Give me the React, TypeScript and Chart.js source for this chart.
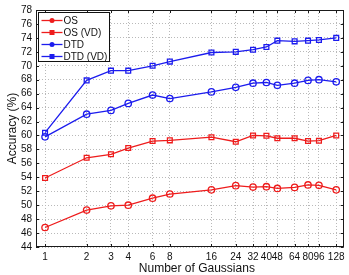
import React, { useEffect, useRef } from "react";
import { Chart, registerables } from "chart.js";

Chart.register(...registerables);

// Number of Gaussians (log-spaced axis)
const gaussians = [1, 2, 3, 4, 6, 8, 16, 24, 32, 40, 48, 64, 80, 96, 128];

// Accuracy (%) per method
const osAcc = [46.8, 49.3, 49.9, 50.0, 51.0, 51.6, 52.2, 52.8, 52.6, 52.65, 52.4, 52.55, 52.9, 52.85, 52.2];
const osVdAcc = [53.9, 56.8, 57.3, 58.2, 59.2, 59.3, 59.75, 59.1, 60.0, 59.95, 59.6, 59.6, 59.2, 59.25, 60.0];
const dtdAcc = [59.8, 63.05, 63.6, 64.6, 65.8, 65.3, 66.25, 66.9, 67.5, 67.6, 67.2, 67.5, 67.9, 68.0, 67.7];
const dtdVdAcc = [60.4, 67.9, 69.3, 69.3, 70.0, 70.6, 71.9, 72.0, 72.3, 72.7, 73.6, 73.5, 73.6, 73.7, 74.0];

const seriesNames = ["OS", "OS (VD)", "DTD", "DTD (VD)"];
const yTicks = [44, 46, 48, 50, 52, 54, 56, 58, 60, 62, 64, 66, 68, 70, 72, 74, 76, 78];
const xTitle = "Number of Gaussians";

const RED = "rgb(238,28,28)";
const BLUE = "rgb(28,28,238)";
const FONT = "'Liberation Sans', Arial, Helvetica, sans-serif";

const toPoints = (vals: number[]) => gaussians.map((x, i) => ({ x, y: vals[i] }));

// Draws the boxed frame with inward tick marks, the x-axis title and the legend inside the plot area
const frameAndLegend = {
  id: "frameAndLegend",
  afterDraw(chart: any) {
    const { ctx, chartArea: a, scales } = chart;
    const xs = scales.x;
    const ys = scales.y;
    ctx.save();
    ctx.strokeStyle = "#1a1a1a";
    ctx.lineWidth = 1;
    const seg = (x1: number, y1: number, x2: number, y2: number) => {
      ctx.beginPath();
      ctx.moveTo(x1, y1);
      ctx.lineTo(x2, y2);
      ctx.stroke();
    };
    xs.ticks.forEach((t: any) => {
      const px = Math.round(xs.getPixelForValue(t.value)) + 0.5;
      seg(px, a.bottom, px, a.bottom - 3);
      seg(px, a.top, px, a.top + 3);
    });
    ys.ticks.forEach((t: any) => {
      const py = Math.round(ys.getPixelForValue(t.value)) + 0.5;
      seg(a.left, py, a.left + 3, py);
      seg(a.right, py, a.right - 3, py);
    });
    ctx.strokeRect(Math.round(a.left) + 0.5, Math.round(a.top) + 0.5, Math.round(a.right - a.left) - 1, Math.round(a.bottom - a.top) - 1);

    // x-axis title
    ctx.fillStyle = "#111";
    ctx.font = `12px ${FONT}`;
    ctx.textAlign = "center";
    ctx.textBaseline = "middle";
    ctx.fillText(xTitle, (a.left + a.right) / 2 + 7, a.bottom + 22);

    // legend
    const bx = Math.round(a.left) + 2.5;
    const by = Math.round(a.top) + 2.5;
    const bw = 71;
    const bh = 49;
    ctx.fillStyle = "#fff";
    ctx.fillRect(bx, by, bw, bh);
    ctx.strokeStyle = "#111";
    ctx.strokeRect(bx, by, bw, bh);
    ctx.font = `10px ${FONT}`;
    ctx.textAlign = "left";
    ctx.textBaseline = "middle";
    chart.data.datasets.forEach((ds: any, i: number) => {
      const cy = by + 8 + i * 12;
      ctx.strokeStyle = ds.borderColor;
      ctx.fillStyle = ds.borderColor;
      ctx.lineWidth = 1.3;
      seg(bx + 3, cy, bx + 24, cy);
      const cx = bx + 13.5;
      if (ds.pointStyle === "rect") {
        ctx.fillRect(cx - 2.5, cy - 2.5, 5, 5);
      } else {
        ctx.beginPath();
        ctx.arc(cx, cy, 2.5, 0, Math.PI * 2);
        ctx.fill();
      }
      ctx.fillStyle = "#111";
      ctx.fillText(ds.label, bx + 25, cy + 0.5);
    });
    ctx.restore();
  },
};

export default function App() {
  const canvasRef = useRef<HTMLCanvasElement | null>(null);

  useEffect(() => {
    if (!canvasRef.current) return;
    const mk = (label: string, vals: number[], color: string, style: string, radius: number) => ({
      label,
      data: toPoints(vals),
      borderColor: color,
      backgroundColor: color,
      borderWidth: 1.3,
      pointStyle: style,
      pointRadius: radius,
      pointBorderWidth: 1.3,
      pointBorderColor: color,
      pointBackgroundColor: "rgba(255,255,255,0)",
      tension: 0,
    });
    const chart = new Chart(canvasRef.current, {
      type: "line",
      data: {
        datasets: [
          mk(seriesNames[0], osAcc, RED, "circle", 3.2),
          mk(seriesNames[1], osVdAcc, RED, "rect", 3.4),
          mk(seriesNames[2], dtdAcc, BLUE, "circle", 3.2),
          mk(seriesNames[3], dtdVdAcc, BLUE, "rect", 3.4),
        ],
      },
      options: {
        responsive: false,
        animation: false,
        layout: { padding: { top: 6, right: 2, left: 0, bottom: 0 } },
        plugins: { legend: { display: false }, tooltip: { enabled: false } },
        scales: {
          x: {
            type: "logarithmic",
            min: 0.86,
            max: 145,
            afterBuildTicks: (scale: any) => {
              scale.ticks = gaussians.map((v) => ({ value: v }));
            },
            afterFit: (scale: any) => {
              scale.height = 28;
            },
            ticks: {
              autoSkip: false,
              maxRotation: 0,
              minRotation: 0,
              padding: 4,
              color: "#111",
              font: { family: FONT, size: 10 },
              callback: (v: any) => String(v),
            },
            grid: { color: "rgb(185,185,185)", lineWidth: 1, drawTicks: false },
            border: { display: false, dash: [1, 2] },
          },
          y: {
            min: 44,
            max: 78,
            afterBuildTicks: (scale: any) => {
              scale.ticks = yTicks.map((v) => ({ value: v }));
            },
            afterFit: (scale: any) => {
              scale.width = 36;
            },
            ticks: {
              autoSkip: false,
              padding: 4,
              color: "#111",
              font: { family: FONT, size: 10 },
              callback: (v: any) => String(v),
            },
            grid: { color: "rgb(185,185,185)", lineWidth: 1, drawTicks: false },
            border: { display: false, dash: [1, 2] },
            title: {
              display: true,
              text: "Accuracy (%)",
              color: "#111",
              font: { family: FONT, size: 12 },
              padding: { top: 5, bottom: 0 },
            },
          },
        },
      },
      plugins: [frameAndLegend],
    } as any);
    return () => chart.destroy();
  }, []);

  return (
    <div style={{ position: "absolute", left: 0, top: 0, width: 349, height: 275, background: "#fff" }}>
      <canvas ref={canvasRef} width={349} height={275} style={{ display: "block" }} />
    </div>
  );
}
